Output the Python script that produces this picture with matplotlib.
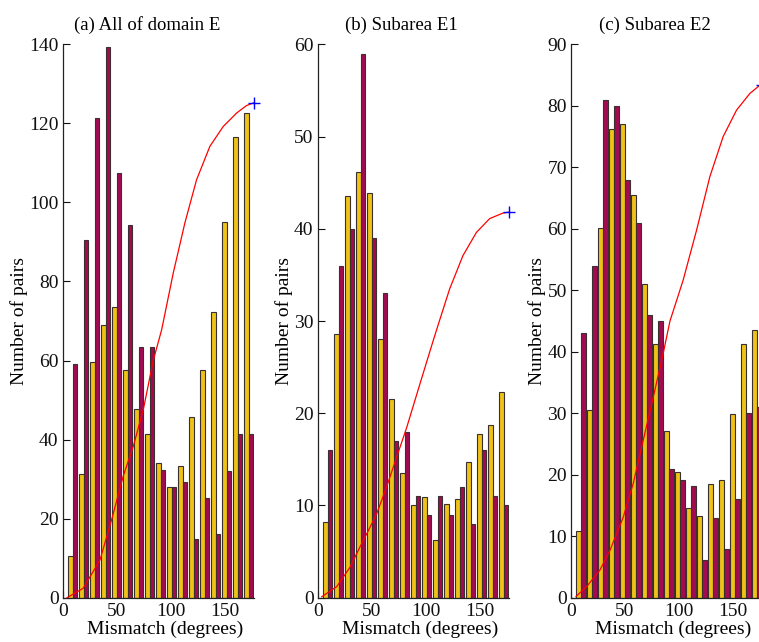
import matplotlib
matplotlib.use("Agg")
import matplotlib.pyplot as plt

plt.rcParams['font.family'] = ['Liberation Serif', 'DejaVu Serif']

# ---- data ----
bin_centers = [9.2, 19.4, 29.6, 39.8, 50.0, 60.2, 70.4, 80.6, 90.8, 101.0,
               111.2, 121.4, 131.6, 141.8, 152.0, 162.2, 172.4]

a_yellow = [10.5, 31.3, 59.7, 69.0, 73.5, 57.5, 47.8, 41.3, 34.2, 27.9,
            33.2, 45.6, 57.6, 72.4, 95.0, 116.5, 122.5]
a_magenta = [59.1, 90.4, 121.4, 139.2, 107.4, 94.3, 63.4, 63.4, 32.2, 28.1,
             29.2, 14.9, 25.2, 16.1, 32.1, 41.3, 41.3]

b_yellow = [8.2, 28.6, 43.6, 46.2, 43.9, 28.0, 21.5, 13.5, 10.1, 10.9,
            6.3, 10.2, 10.7, 14.7, 17.7, 18.7, 22.3]
b_magenta = [16.0, 36.0, 40.0, 59.0, 39.0, 33.0, 17.0, 18.0, 11.0, 9.0,
             11.0, 9.0, 12.0, 8.0, 16.0, 11.0, 10.0]

c_yellow = [10.9, 30.6, 60.2, 76.3, 77.0, 65.5, 51.0, 41.3, 27.1, 20.4,
            14.6, 13.3, 18.5, 19.1, 29.9, 41.3, 43.6]
c_magenta = [43.0, 54.0, 81.0, 80.0, 68.0, 61.0, 46.0, 45.0, 21.0, 19.1,
             18.1, 6.1, 13.0, 8.0, 16.0, 30.1, 31.0]

# red cumulative curves
a_curve_x = [4, 19, 34.5, 45.3, 56, 65.4, 74.7, 83.9, 91.7, 102.4, 113.2,
             124, 136.4, 148.7, 161.1, 170.3, 177]
a_curve_y = [0, 2.4, 9.5, 19.7, 30.7, 38.3, 47.6, 60, 67.8, 82.1, 94.8,
             105.7, 114.2, 119.2, 122.6, 124.5, 125.2]

b_curve_x = [3.7, 17.6, 29.9, 39.1, 45.3, 54.6, 63.8, 73, 82.3, 94.5, 106.8,
             113, 122.3, 134.6, 147, 159.3, 171.6, 177]
b_curve_y = [0.1, 1.2, 3.3, 5.5, 6.9, 9.1, 12, 15.2, 18.4, 23.1, 27.8,
             30.1, 33.5, 37.1, 39.6, 41.1, 41.7, 41.8]

c_curve_x = [4.6, 14.5, 26.8, 36.1, 48.4, 57.7, 66.9, 76.2, 85.4, 91.7, 97.8,
             104, 116.4, 128.7, 141, 153.4, 165.7, 174, 177]
c_curve_y = [0.2, 1.8, 4.5, 7.7, 13.1, 18.6, 25.6, 32.6, 39.7, 45, 48.3,
             51.7, 59.8, 68.5, 75, 79.3, 82, 83.2, 83.4]

titles = ["(a) All of domain E", "(b) Subarea E1", "(c) Subarea E2"]
ylims = [140, 60, 90]
ysteps = [20, 10, 10]
xticks = [0, 50, 100, 150]

YELLOW = "#EEC216"
MAGENTA = "#A30A50"
EDGE = "#3a3030"

fig = plt.figure(figsize=(7.59, 6.42), dpi=100)
lefts = [0.0826, 0.4186, 0.7523]
width = 0.2517
bottom = 0.069
height = 0.862

panels = [
    (a_yellow, a_magenta, a_curve_x, a_curve_y),
    (b_yellow, b_magenta, b_curve_x, b_curve_y),
    (c_yellow, c_magenta, c_curve_x, c_curve_y),
]

bw = 4.3
for i, (yel, mag, cx, cy) in enumerate(panels):
    ax = fig.add_axes([lefts[i], bottom, width, height])
    xs_y = [c - bw / 2 for c in bin_centers]
    xs_m = [c + bw / 2 for c in bin_centers]
    ax.bar(xs_y, yel, width=bw, color=YELLOW, edgecolor=EDGE, linewidth=0.8, zorder=2)
    ax.bar(xs_m, mag, width=bw, color=MAGENTA, edgecolor=EDGE, linewidth=0.8, zorder=2)
    ax.plot(cx, cy, color="red", linewidth=0.9, zorder=3, clip_on=False)
    ax.plot([cx[-1]], [cy[-1]], marker="+", color="blue", markersize=8,
            markeredgewidth=1.0, linestyle="none", zorder=4, clip_on=False)
    ax.set_xlim(0, 177)
    ax.set_ylim(0, ylims[i])
    ax.set_yticks(list(range(0, ylims[i] + 1, ysteps[i])))
    ax.set_xticks(xticks)
    for s in ["top", "right"]:
        ax.spines[s].set_visible(False)
    for s in ["left", "bottom"]:
        ax.spines[s].set_color("#222222")
        ax.spines[s].set_linewidth(0.9)
    ax.tick_params(axis="both", direction="in", length=5, width=0.8,
                   labelsize=14, pad=3, colors="#111111")
    ax.tick_params(axis="x", pad=4)
    ax.set_xlabel("Mismatch (degrees)", fontsize=14, labelpad=0, x=0.535)
    ax.set_ylabel("Number of pairs", fontsize=14, labelpad=1)
    ax.set_title(titles[i], fontsize=13.5, x=0.44, pad=10)
    ax.patch.set_alpha(0)

fig.savefig("out.png", dpi=100)
